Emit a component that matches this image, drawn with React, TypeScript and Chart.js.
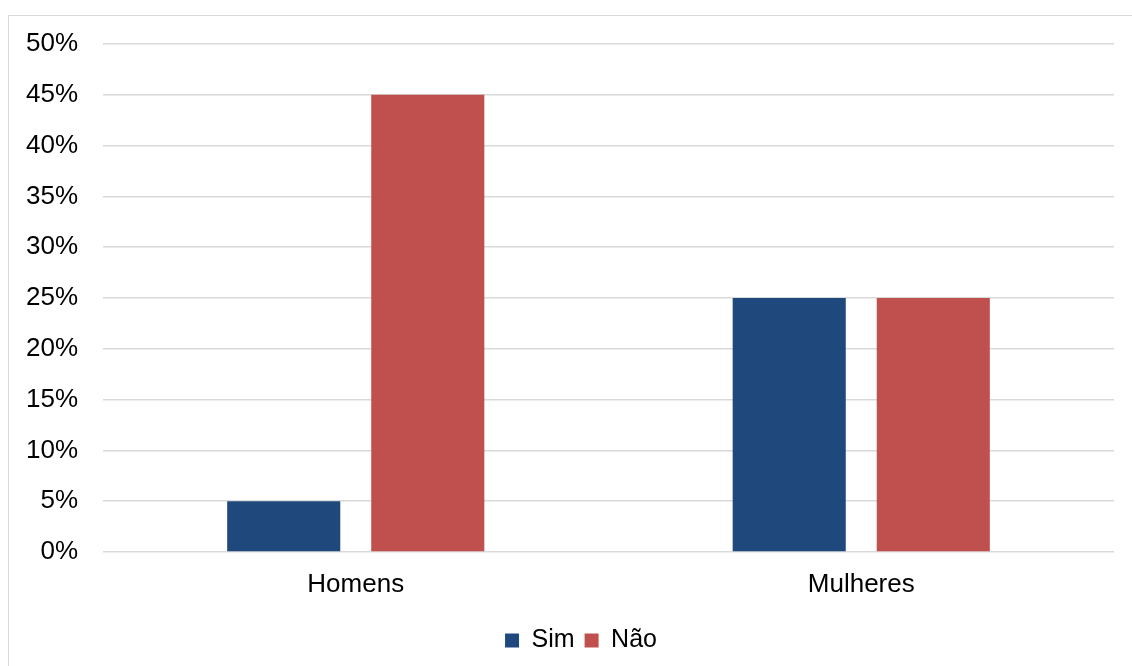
import React, { useEffect, useRef } from "react";
import { Chart, registerables } from "chart.js";

Chart.register(...registerables);

const categories = ["Homens", "Mulheres"];
const simValues = [5, 25];
const naoValues = [45, 25];
const seriesNames = ["Sim", "Não"];
const yTicks = [0, 5, 10, 15, 20, 25, 30, 35, 40, 45, 50];

const shiftLegend = {
  id: "shiftLegend",
  afterLayout(chart: any) {
    if (chart.legend) {
      chart.legend.left += 24;
      chart.legend.right += 24;
    }
  },
};

export default function App() {
  const ref = useRef<HTMLCanvasElement | null>(null);

  useEffect(() => {
    if (!ref.current) return;
    const font = { family: "'Liberation Sans', Arial, sans-serif", size: 26 };
    const legendFont = { family: "'Liberation Sans', Arial, sans-serif", size: 25 };
    const chart = new Chart(ref.current, {
      type: "bar",
      data: {
        labels: categories,
        datasets: [
          {
            label: seriesNames[0],
            data: simValues,
            backgroundColor: "#1F497D",
            categoryPercentage: 0.57,
            barPercentage: 0.785,
          },
          {
            label: seriesNames[1],
            data: naoValues,
            backgroundColor: "#C0504D",
            categoryPercentage: 0.57,
            barPercentage: 0.785,
          },
        ],
      },
      options: {
        animation: false,
        responsive: false,
        maintainAspectRatio: false,
        layout: { padding: { left: 0, right: 18, top: 44, bottom: 3 } },
        scales: {
          x: {
            grid: { display: false, drawTicks: false },
            border: { display: false },
            ticks: { color: "#000", font, padding: 17 },
            afterFit: (s: any) => {
              s.height = 66;
            },
          },
          y: {
            min: 0,
            max: 50,
            afterBuildTicks: (s: any) => {
              s.ticks = yTicks.map((v) => ({ value: v }));
            },
            grid: { color: "#d9d9d9", lineWidth: 1.5, drawTicks: false },
            border: { display: false },
            ticks: {
              color: "#000",
              font,
              padding: 25,
              callback: (v: any) => v + "%",
            },
            afterFit: (s: any) => {
              s.width = 103;
            },
          },
        },
        plugins: {
          legend: {
            position: "bottom",
            labels: {
              color: "#000",
              font: legendFont,
              boxWidth: 14,
              boxHeight: 14,
              padding: 10,
            },
          },
          tooltip: { enabled: false },
        },
      },
      plugins: [shiftLegend],
    });
    return () => chart.destroy();
  }, []);

  return (
    <div style={{ position: "fixed", left: 0, top: 0, width: 1132, height: 666, background: "#fff" }}>
      <div
        style={{
          position: "absolute",
          left: 8,
          top: 15,
          width: 1140,
          height: 680,
          border: "1.5px solid #d9d9d9",
          boxSizing: "border-box",
        }}
      />
      <canvas ref={ref} width={1132} height={666} style={{ position: "absolute", left: 0, top: 0 }} />
    </div>
  );
}
